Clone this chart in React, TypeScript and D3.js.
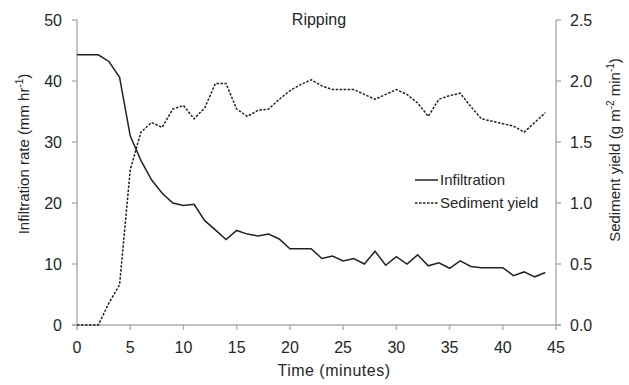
import React from "react";
import * as d3 from "d3";

const minutes = d3.range(0, 45);
const infiltration = [44.3, 44.3, 44.3, 43.2, 40.6, 31.0, 27.0, 23.8, 21.6, 20.0, 19.6, 19.8, 17.1, 15.6, 14.0, 15.5, 14.9, 14.6, 14.9, 14.1, 12.5, 12.5, 12.5, 10.9, 11.3, 10.5, 10.9, 10.0, 12.1, 9.8, 11.2, 10.0, 11.5, 9.7, 10.2, 9.3, 10.5, 9.6, 9.4, 9.4, 9.4, 8.1, 8.7, 7.9, 8.6];
const sediment = [0, 0, 0, 0.18, 0.33, 1.27, 1.58, 1.66, 1.62, 1.77, 1.80, 1.69, 1.78, 1.98, 1.98, 1.77, 1.71, 1.76, 1.77, 1.85, 1.92, 1.97, 2.01, 1.96, 1.93, 1.93, 1.93, 1.89, 1.85, 1.89, 1.93, 1.89, 1.82, 1.71, 1.85, 1.88, 1.90, 1.79, 1.69, 1.67, 1.65, 1.63, 1.58, 1.66, 1.74];
const xTicks = [0, 5, 10, 15, 20, 25, 30, 35, 40, 45];
const yLeftTicks = [0, 10, 20, 30, 40, 50];
const yRightTicks = [0, 0.5, 1.0, 1.5, 2.0, 2.5];

const W = 629, H = 385;
const x0 = 77, x1 = 556, yTop = 20, yBot = 325;
const axisColor = "#b0b0b0";
const textColor = "#262626";
const font = "Liberation Sans, Arial, sans-serif";

export default function App() {
  const x = d3.scaleLinear().domain([0, 45]).range([x0, x1]);
  const yL = d3.scaleLinear().domain([0, 50]).range([yBot, yTop]);
  const yR = d3.scaleLinear().domain([0, 2.5]).range([yBot, yTop]);
  const lineI = d3.line<number>().x((_, i) => x(minutes[i])).y((d) => yL(d));
  const lineS = d3.line<number>().x((_, i) => x(minutes[i])).y((d) => yR(d));

  return (
    <svg width={W} height={H} style={{ position: "absolute", left: 0, top: 0, background: "#fff" }} fontFamily={font}>
      <rect width={W} height={H} fill="#fff" />
      {/* axes */}
      <line x1={x0} x2={x0} y1={yTop} y2={yBot} stroke={axisColor} strokeWidth={1.5} />
      <line x1={x1} x2={x1} y1={yTop} y2={yBot} stroke={axisColor} strokeWidth={1.5} />
      <line x1={x0 - 5} x2={x1 + 5} y1={yBot} y2={yBot} stroke={axisColor} strokeWidth={1.5} />
      {yLeftTicks.map((t) => (
        <g key={"l" + t}>
          <line x1={x0 - 5} x2={x0} y1={yL(t)} y2={yL(t)} stroke={axisColor} strokeWidth={1.5} />
          <text x={x0 - 15} y={yL(t)} dy="0.35em" textAnchor="end" fontSize={16} fill={textColor}>{t}</text>
        </g>
      ))}
      {yRightTicks.map((t) => (
        <g key={"r" + t}>
          <line x1={x1} x2={x1 + 5} y1={yR(t)} y2={yR(t)} stroke={axisColor} strokeWidth={1.5} />
          <text x={x1 + 14} y={yR(t)} dy="0.35em" textAnchor="start" fontSize={16} fill={textColor}>{t.toFixed(1)}</text>
        </g>
      ))}
      {xTicks.map((t) => (
        <g key={"x" + t}>
          <line x1={x(t)} x2={x(t)} y1={yBot} y2={yBot + 5} stroke={axisColor} strokeWidth={1.5} />
          <text x={x(t)} y={yBot + 22} dy="0.35em" textAnchor="middle" fontSize={16} fill={textColor}>{t}</text>
        </g>
      ))}
      {/* titles */}
      <text x={319} y={19} dy="0.35em" textAnchor="middle" fontSize={16} fill={textColor}>Ripping</text>
      <text x={334} y={370} dy="0.35em" textAnchor="middle" fontSize={16} fill={textColor} letterSpacing={0.5}>Time (minutes)</text>
      <text transform={`translate(24,154) rotate(-90)`} dy="0.35em" textAnchor="middle" fontSize={15} fill={textColor}>
        Infiltration rate (mm hr<tspan dy="-6" fontSize={10}>-1</tspan><tspan dy="6">)</tspan>
      </text>
      <text transform={`translate(615,150) rotate(-90)`} dy="0.35em" textAnchor="middle" fontSize={15} fill={textColor}>
        Sediment yield (g m<tspan dy="-6" fontSize={10}>-2</tspan><tspan dy="6"> min</tspan><tspan dy="-6" fontSize={10}>-1</tspan><tspan dy="6">)</tspan>
      </text>
      {/* lines */}
      <path d={lineI(infiltration) || ""} fill="none" stroke="#222" strokeWidth={1.5} />
      <path d={lineS(sediment) || ""} fill="none" stroke="#222" strokeWidth={1.5} strokeDasharray="2.5,1.5" />
      {/* legend */}
      <line x1={415} x2={438} y1={180} y2={180} stroke="#222" strokeWidth={1.5} />
      <text x={440} y={180} dy="0.35em" fontSize={15} fill={textColor}>Infiltration</text>
      <line x1={415} x2={438} y1={203} y2={203} stroke="#222" strokeWidth={1.5} strokeDasharray="2.5,1.5" />
      <text x={440} y={203} dy="0.35em" fontSize={15} fill={textColor}>Sediment yield</text>
    </svg>
  );
}
